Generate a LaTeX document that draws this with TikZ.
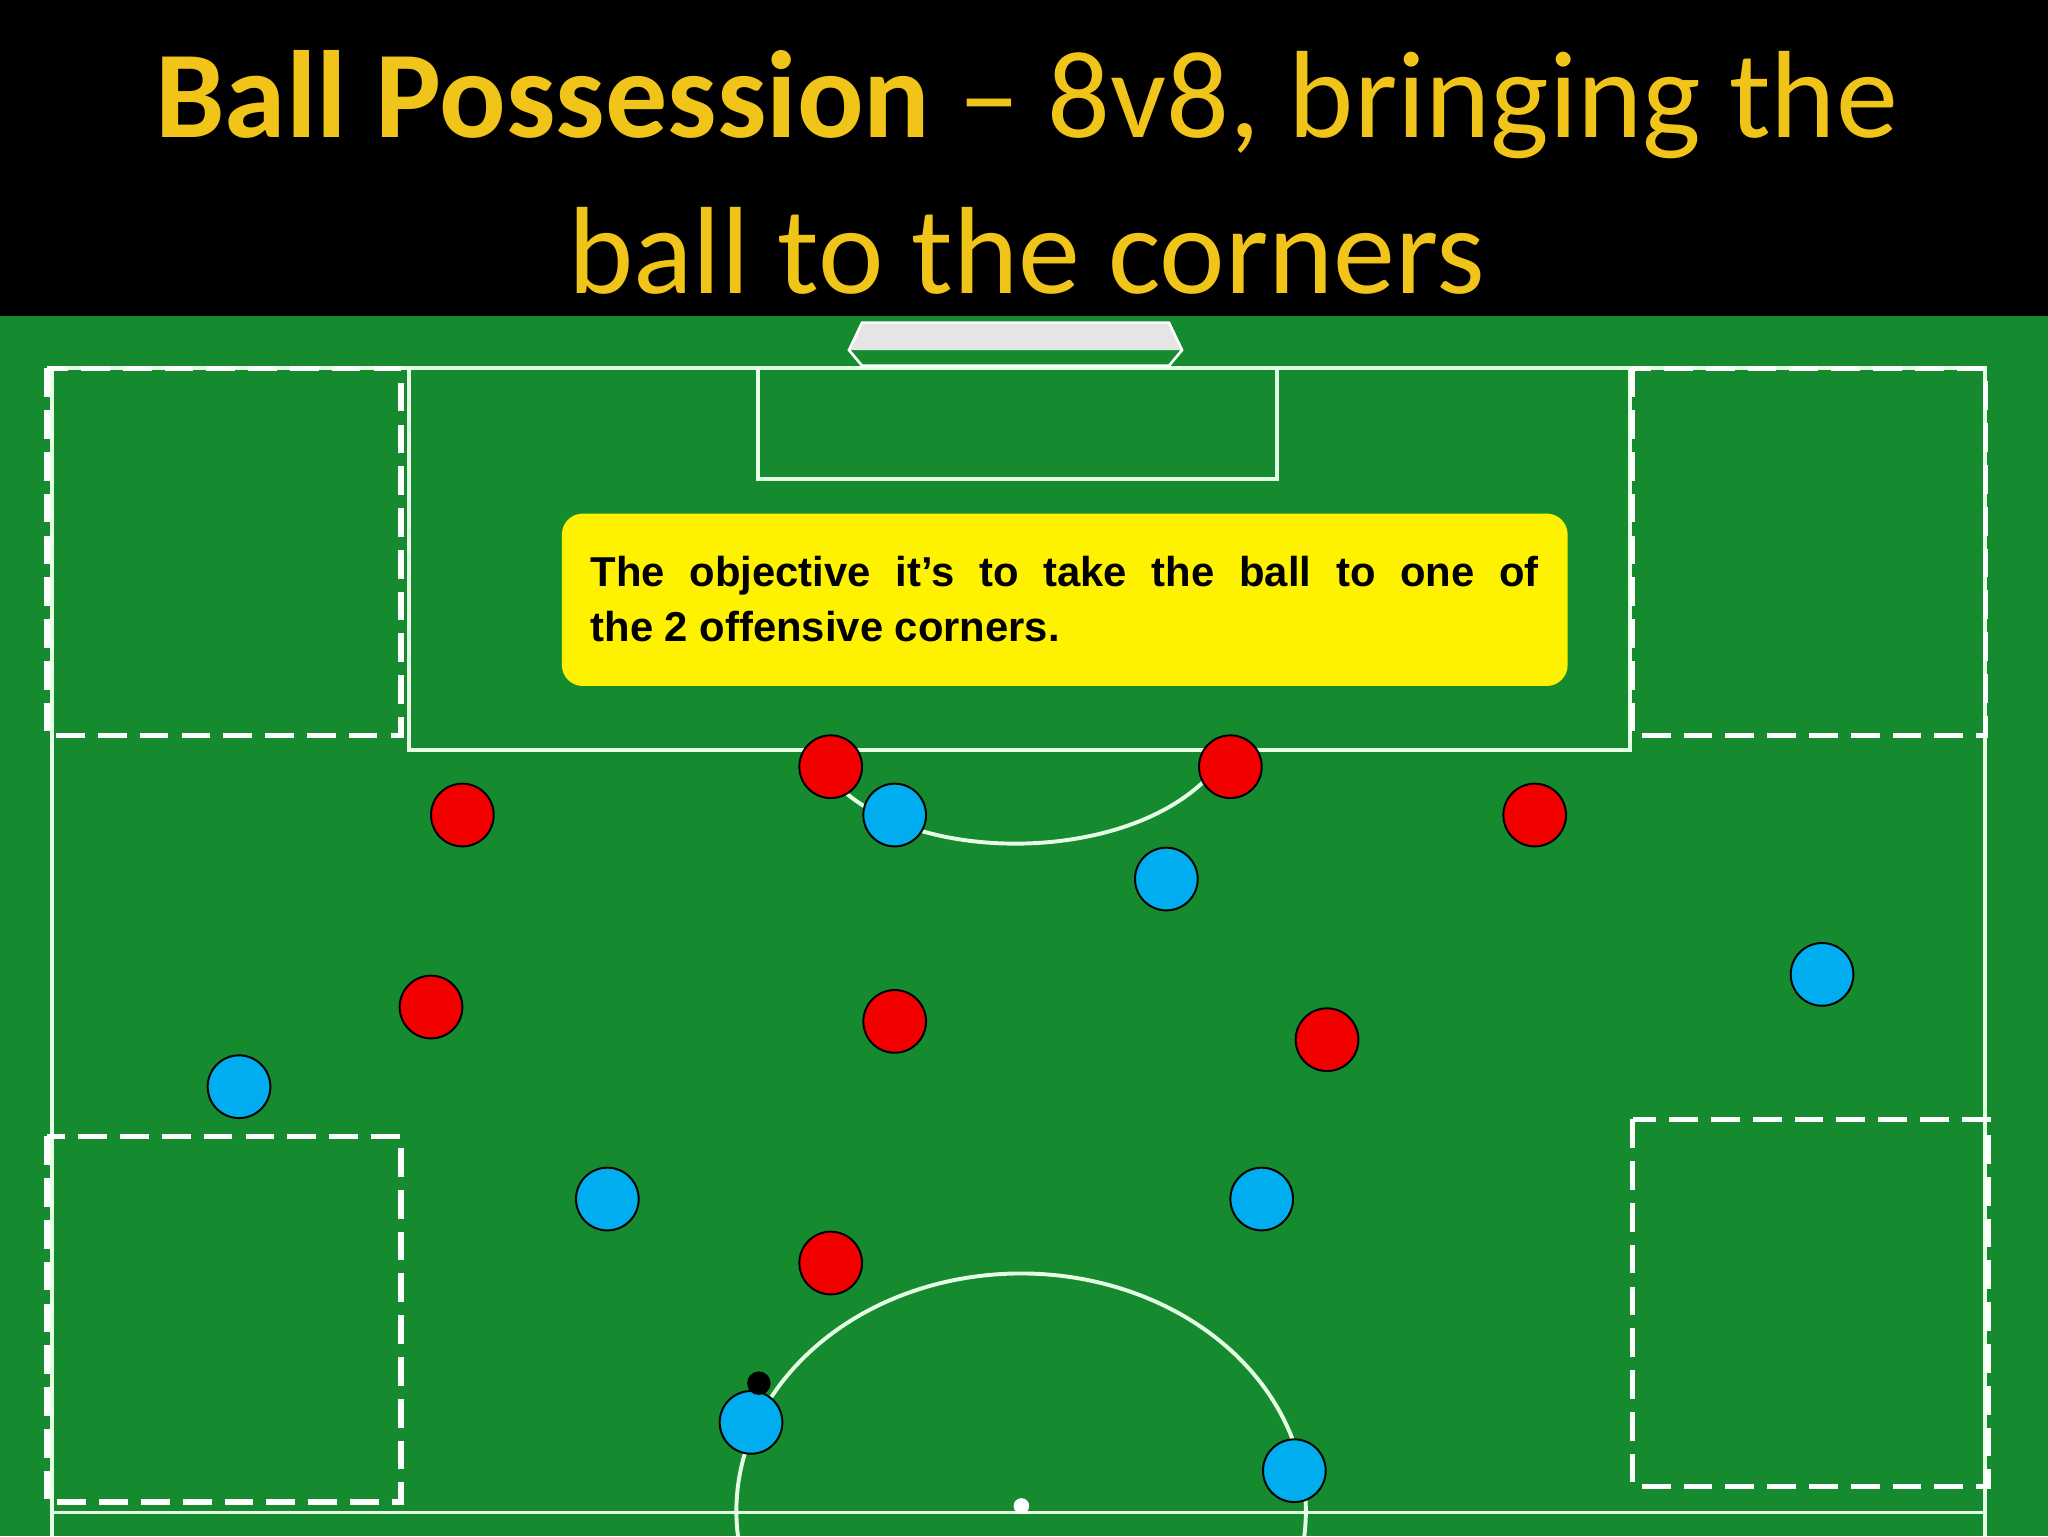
\documentclass[tikz,border=0pt]{standalone}
\usepackage{fontspec}
\setmainfont{Liberation Sans}
\newfontfamily\titlefont{Carlito}
\begin{document}
\begin{tikzpicture}[x=1pt,y=-1pt,
  fl/.style={white!90!green,line width=3pt},
  dbox/.style={white,line width=4pt,dash pattern=on 22pt off 10pt},
  red/.style={circle,draw=black,line width=1.5pt,fill=red!95!black,minimum size=48pt,inner sep=0},
  blue/.style={circle,draw=black,line width=1.5pt,minimum size=48pt,inner sep=0}]
\definecolor{pitch}{HTML}{168A2E}
\definecolor{gold}{HTML}{F0C419}
\definecolor{skyb}{HTML}{00AEEF}
\tikzset{blue/.append style={fill=skyb}}
\useasboundingbox (0,0) rectangle (1568,1176);
\fill[black] (0,0) rectangle (1568,242);
\fill[pitch] (0,242) rectangle (1568,1176);
\node[text=gold,font=\titlefont\fontsize{95}{110}\selectfont] (t1) at (786,80) {\textbf{Ball Possession} – 8v8, bringing the};
\node[text=gold,font=\titlefont\fontsize{95}{110}\selectfont] (t2) at (786,192) {ball to the corners};
% field
\draw[fl] (40,1176) -- (40,282) -- (1520,282) -- (1520,1176);
\draw[fl] (313,282) -- (313,574) -- (1248,574) -- (1248,282);
\draw[fl] (580,282) -- (580,367) -- (978,367) -- (978,282);
\draw[fl] (640,600) .. controls (700,662) and (860,662) .. (925,595);
\draw[fl] (40,1158) -- (1520,1158);
\draw[fl] (565,1176) arc (174:366:218 and 182);
\fill[white] (782,1153) circle (6);
% goal
\fill[white!80!gray] (660,247) -- (895,247) -- (905,268) -- (650,268) -- cycle;
\draw[white,line width=2pt] (660,247) -- (895,247) -- (905,268) -- (895,280) -- (660,280) -- (650,268) -- cycle;
% dashed corners
\draw[dbox] (36,282) rectangle (307,563);
\draw[dbox] (1250,282) rectangle (1520,563);
\draw[dbox] (36,870) rectangle (307,1150);
\draw[dbox] (1250,857) rectangle (1522,1138);
% text box
\node[fill=yellow,rounded corners=16pt,minimum width=770pt,minimum height=132pt,anchor=north west] (box) at (430,393) {};
\node[anchor=north west,text width=726pt,align=justify,font=\bfseries\fontsize{32}{42}\selectfont,inner sep=0] (txt) at (452,426) {\hyphenpenalty=10000 The objective it’s to take the ball to one of\linebreak the 2 offensive corners.};
% players
\foreach \n/\x/\y in {r1/636/587,r2/942/587,r3/354/624,r4/1175/624,r5/330/771,r6/685/782,r7/1016/796,r8/636/967}
  \node[red] (\n) at (\x,\y) {};
\foreach \n/\x/\y in {b1/685/624,b2/893/673,b3/1395/746,b4/183/832,b5/465/918,b6/966/918,b7/575/1089,b8/991/1126}
  \node[blue] (\n) at (\x,\y) {};
\fill[black] (581,1059) circle (9);
\end{tikzpicture}
\end{document}
